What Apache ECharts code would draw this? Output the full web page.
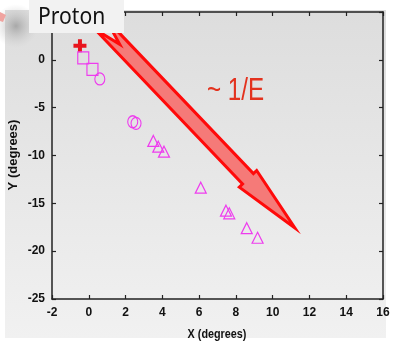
<!DOCTYPE html>
<html><head><meta charset="utf-8">
<script src="https://cdn.jsdelivr.net/npm/echarts@6/dist/echarts.min.js"></script>
<style>html,body{margin:0;padding:0;background:#fff}#c{width:393px;height:343px}</style>
</head><body><div id="c"></div>
<script>
// ---- data ----
const xTicks = [-2, 0, 2, 4, 6, 8, 10, 12, 14, 16];
const yTicks = [-25, -20, -15, -10, -5, 0, 5];
const protonX = [-0.48];
const protonY = [1.47];
const squareX = [-0.3, 0.2];
const squareY = [0.21, -0.99];
const circleX = [0.6, 2.39, 2.57];
const circleY = [-2.0, -6.47, -6.64];
const triangleX = [3.51, 3.78, 4.09, 6.09, 7.46, 7.64, 8.59, 9.18];
const triangleY = [-8.48, -9.08, -9.6, -13.36, -15.77, -16.04, -17.6, -18.6];
const arrowTail = [0.63, 3.74];
const arrowTip = [11.21, -17.58];
const xTitle = 'X (degrees)';
const yTitle = 'Y (degrees)';
const labelText = 'Proton';
const trendText = '~ 1/E';

const zip = (a, b) => a.map((v, i) => [v, b[i]]);
const MAG = '#ee3cee';
const axisCommon = {
  type: 'value', splitLine: {show: false},
  axisLine: {show: true, onZero: false, lineStyle: {color: '#222', width: 1.5}},
  axisTick: {show: true, inside: true, length: 4, lineStyle: {color: '#222', width: 1.2}}
};
const labelFont = {fontFamily: 'Liberation Sans', fontWeight: 'bold', fontSize: 12, color: '#111'};

const chart = echarts.init(document.getElementById('c'), null, {renderer: 'canvas'});
chart.setOption({
  animation: false,
  backgroundColor: '#ffffff',
  grid: {left: 52, right: 10, top: 12, bottom: 44, containLabel: false},
  xAxis: [
    Object.assign({}, axisCommon, {min: xTicks[0], max: xTicks[xTicks.length - 1], interval: 2, position: 'bottom',
      axisLabel: Object.assign({margin: 8}, labelFont)}),
    Object.assign({}, axisCommon, {min: xTicks[0], max: xTicks[xTicks.length - 1], interval: 2, position: 'top',
      axisLabel: {show: false}})
  ],
  yAxis: [
    Object.assign({}, axisCommon, {min: yTicks[0], max: yTicks[yTicks.length - 1], interval: 5, position: 'left',
      axisLabel: Object.assign({margin: 7}, labelFont)}),
    Object.assign({}, axisCommon, {min: yTicks[0], max: yTicks[yTicks.length - 1], interval: 5, position: 'right',
      axisLabel: {show: false}})
  ],
  graphic: [
    {type: 'rect', z: -10, shape: {x: 5, y: 10, width: 381, height: 328},
      style: {fill: new echarts.graphic.LinearGradient(0, 0, 0, 1, [{offset: 0, color: '#dddddd'}, {offset: 1, color: '#f1f1f1'}])}},
    {type: 'circle', z: -9, shape: {cx: 16, cy: 26, r: 22},
      style: {fill: new echarts.graphic.RadialGradient(0.5, 0.5, 0.5, [{offset: 0, color: 'rgba(150,150,150,0.75)'}, {offset: 1, color: 'rgba(200,200,200,0)'}])}},
    {type: 'polygon', z: -8, shape: {points: [[0, 12], [6, 15], [3, 22], [0, 21]]}, style: {fill: '#f0a4a0'}},
    {type: 'rect', z: 100, shape: {x: 29, y: 0, width: 95, height: 33}, style: {fill: '#f2f2f2'}},
    {type: 'text', z: 101, x: 38, y: 17, scaleX: 0.88,
      style: {text: labelText, fontFamily: 'Noto Sans', fontSize: 24, fill: '#111', align: 'left', verticalAlign: 'middle'}},
    {type: 'text', z: 50, x: 207, y: 91, scaleX: 0.78,
      style: {text: trendText, fontFamily: 'Liberation Sans', fontSize: 31, fill: '#e3321e', align: 'left', verticalAlign: 'middle'}},
    {type: 'text', z: 50, x: 217, y: 334, scaleX: 0.8,
      style: {text: xTitle, fontFamily: 'Liberation Sans', fontWeight: 'bold', fontSize: 13.5, fill: '#111', align: 'center', verticalAlign: 'middle'}},
    {type: 'text', z: 50, x: 13, y: 155, rotation: Math.PI / 2,
      style: {text: yTitle, fontFamily: 'Liberation Sans', fontWeight: 'bold', fontSize: 13, fill: '#111', align: 'center', verticalAlign: 'middle'}}
  ],
  series: [
    {
      type: 'custom', coordinateSystem: 'cartesian2d', z: 3, clip: false,
      encode: {x: [0, 2], y: [1, 3]},
      data: [[arrowTail[0], arrowTail[1], arrowTip[0], arrowTip[1]]],
      renderItem: function (params, api) {
        const a = api.coord([api.value(0), api.value(1)]);
        const b = api.coord([api.value(2), api.value(3)]);
        const dx = b[0] - a[0], dy = b[1] - a[1];
        const L = Math.sqrt(dx * dx + dy * dy);
        const u = [dx / L, dy / L], n = [-u[1], u[0]];
        const headLen = 68, sh = 7.5, hh = 12, notch = 28;
        const P = (s, t) => [a[0] + u[0] * s + n[0] * t, a[1] + u[1] * s + n[1] * t];
        const pts = [P(0, sh), P(L - headLen, sh), P(L - headLen, hh), P(L, 0),
          P(L - headLen, -hh), P(L - headLen, -sh), P(0, -sh), P(notch, 0)];
        return {type: 'polygon', shape: {points: pts},
          style: {fill: '#f57a78', stroke: '#ff0a0a', lineWidth: 3, lineJoin: 'miter'}};
      }
    },
    {type: 'scatter', z: 5, data: zip(protonX, protonY), symbolSize: 13,
      symbol: 'path://M4.5,0h4v4.5h4.5v4h-4.5v4.5h-4v-4.5h-4.5v-4h4.5z',
      itemStyle: {color: '#e8141c', opacity: 1}},
    {type: 'scatter', z: 5, data: zip(squareX, squareY), symbol: 'rect', symbolSize: [11, 12],
      itemStyle: {color: 'rgba(0,0,0,0)', borderColor: MAG, borderWidth: 1.2, opacity: 1}},
    {type: 'scatter', z: 5, data: zip(circleX, circleY), symbol: 'circle', symbolSize: [10, 12],
      itemStyle: {color: 'rgba(0,0,0,0)', borderColor: MAG, borderWidth: 1.2, opacity: 1}},
    {type: 'scatter', z: 5, data: zip(triangleX, triangleY), symbol: 'triangle', symbolSize: [11, 11],
      itemStyle: {color: 'rgba(0,0,0,0)', borderColor: MAG, borderWidth: 1.2, opacity: 1}}
  ]
});
</script></body></html>
